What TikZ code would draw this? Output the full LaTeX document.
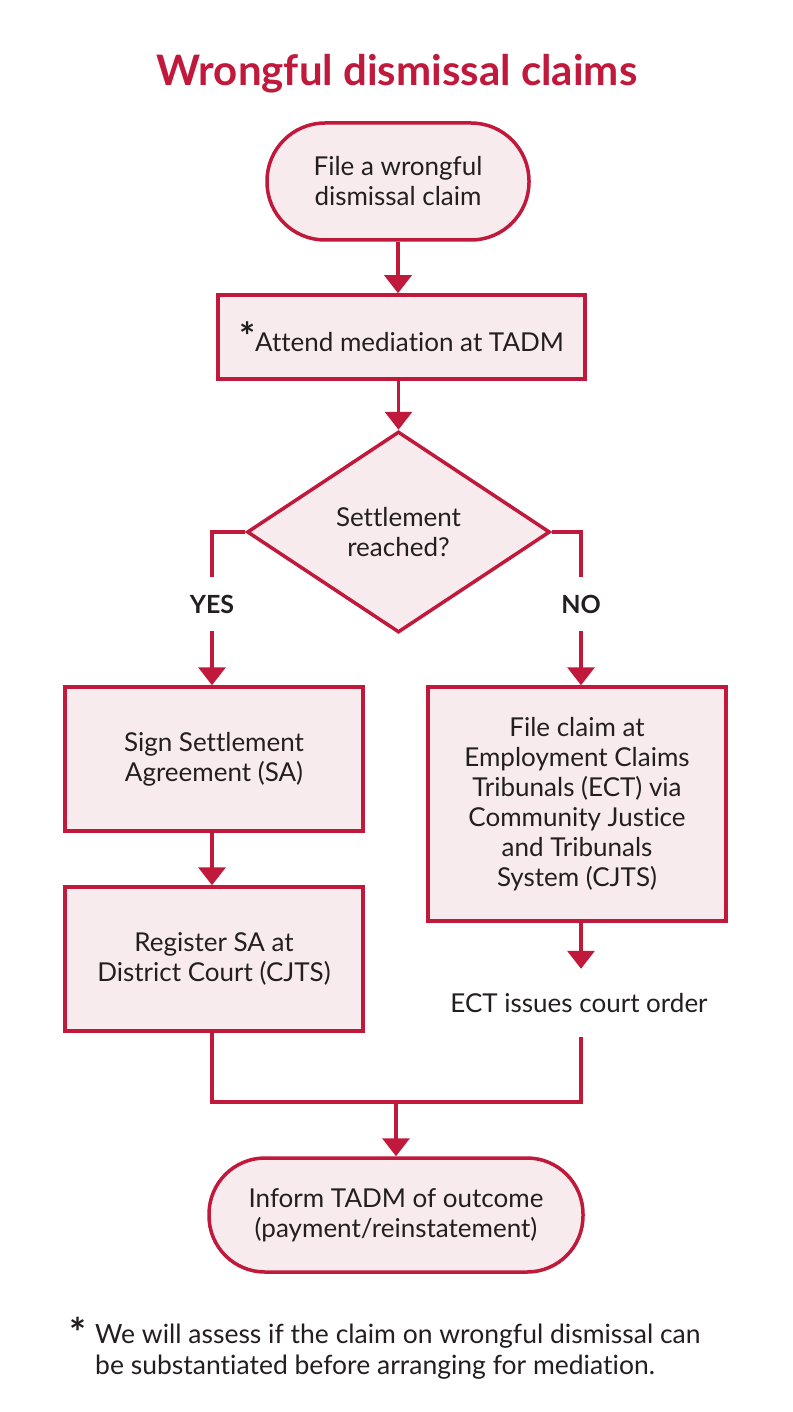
\documentclass[tikz,border=0pt]{standalone}
\usepackage{fontspec}
\setmainfont{Lato}[Ligatures=CommonOff]
\usetikzlibrary{shapes.geometric,arrows.meta}
\definecolor{cred}{HTML}{C1193B}
\definecolor{cfill}{HTML}{F8EBEE}
\definecolor{ctext}{HTML}{231F20}
\begin{document}
\begin{tikzpicture}[x=1pt,y=-1pt,
  every node/.style={text=ctext, font=\fontsize{26}{30}\selectfont},
  box/.style={draw=cred, fill=cfill, line width=3.5pt, align=center, inner sep=0pt},
  lbl/.style={font=\bfseries\fontsize{25}{26}\selectfont, minimum height=53pt, inner sep=0pt},
  conn/.style={draw=cred, line width=3.5pt},
  arr/.style={conn, -{Triangle[width=27pt,length=18pt]}}]
\useasboundingbox (0,0) rectangle (792,1412);
\fill[white] (0,0) rectangle (792,1412);

\node[font=\bfseries\fontsize{42}{50}\selectfont, text=cred, anchor=base] (title) at (397,86) {Wrongful dismissal claims};

\node[box, rounded corners=58pt, minimum width=262pt, minimum height=117pt] (start) at (398,181.5) {File a wrongful\\dismissal claim};
\node[box, minimum width=367pt, minimum height=84pt] (med) at (401.5,337) {\raisebox{1pt}{\bfseries\fontsize{38}{38}\selectfont *}Attend mediation at TADM};
\node[box, diamond, aspect=1.507, minimum width=303pt, minimum height=201pt] (dec) at (398.5,532) {Settlement\\reached?};

\node[lbl] (yes) at (212,604) {YES};
\node[lbl] (no) at (581,604) {NO};

\node[box, minimum width=298pt, minimum height=144pt] (sign) at (214,759) {Sign Settlement\\Agreement (SA)};
\node[box, minimum width=298pt, minimum height=144pt] (reg) at (214,959) {Register SA at\\District Court (CJTS)};
\node[box, minimum width=298pt, minimum height=234pt] (clm) at (577,804) {File claim at\\Employment Claims\\Tribunals (ECT) via\\Community Justice\\and Tribunals\\System (CJTS)};
\node[minimum height=68pt, inner sep=0pt] (ect) at (579,1003) {ECT issues court order};

\node[box, rounded corners=56pt, minimum width=374pt, minimum height=114pt] (end) at (396,1215) {Inform TADM of outcome\\(payment/reinstatement)};

\coordinate (j) at (396,1102);

\draw[arr] (start.south) -- (start.south |- med.north);
\draw[arr] (dec.north |- med.south) -- (dec.north);
\draw[conn] (dec.west) -| (yes.north);
\draw[arr] (yes.south) -- (yes.south |- sign.north);
\draw[conn] (dec.east) -| (no.north);
\draw[arr] (no.south) -- (no.south |- clm.north);
\draw[arr] (yes.south |- sign.south) -- (yes.south |- reg.north);
\draw[arr] (no.south |- clm.south) -- (no.south |- ect.north);
\draw[conn] (yes.south |- reg.south) |- (j) -| (no.south |- ect.south);
\draw[arr] (j) -- (end.north);

\node[font=\bfseries\fontsize{40}{40}\selectfont, inner sep=0pt] (ast) at (78,1332) {*};
\node[anchor=north west, align=left, inner sep=0pt, font=\fontsize{26.5}{31}\selectfont] (note) at (95,1324) {We will assess if the claim on wrongful dismissal can\\be substantiated before arranging for mediation.};
\end{tikzpicture}
\end{document}
